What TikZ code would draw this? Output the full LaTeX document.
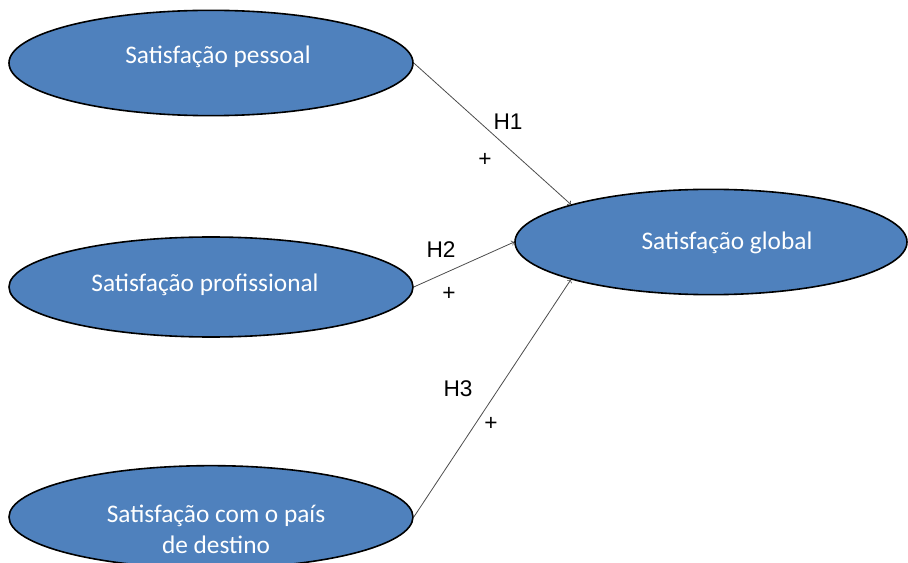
\documentclass[tikz,border=0pt]{standalone}
\usepackage{fontspec}
\setmainfont{Carlito}
\newfontfamily\arialfont{Liberation Sans}
\usetikzlibrary{shapes.geometric}

\begin{document}
\begin{tikzpicture}[x=0.75pt, y=-0.75pt,
    construct/.style={ellipse, draw=black, line width=1.2pt, fill=blueoffice, inner sep=0pt},
    caption/.style={text=white, inner sep=0pt, font=\fontsize{19}{23.5}\selectfont, align=center},
    link/.style={->, line width=0.6pt, draw=black!70},
    hyp/.style={font=\arialfont\fontsize{17}{19}\selectfont, inner sep=0pt}]
  \definecolor{blueoffice}{HTML}{4F81BD}
  \useasboundingbox (0,0) rectangle (908,563);
  \node[construct, minimum width=303pt, minimum height=79pt] (pessoal) at (211,63) {};
  \node[construct, minimum width=303pt, minimum height=75pt] (profissional) at (211,287) {};
  \node[construct, minimum width=303pt, minimum height=77pt] (destino) at (211,517) {};
  \node[construct, minimum width=294pt, minimum height=79pt] (global) at (711,242) {};
  \node[caption] (pessoal-txt) at (218,57) {Satisfação pessoal};
  \node[caption] (profissional-txt) at (205,285) {Satisfação profissional};
  \node[caption] (destino-txt) at (216,529) {Satisfação com o país\\de destino};
  \node[caption] (global-txt) at (727,243) {Satisfação global};
  \draw[link] (pessoal.east) -- (global.165);
  \draw[link] (profissional.east) -- (global.west);
  \draw[link] (destino.east) -- (global.195);
  \node[hyp] (h1) at (508,122) {H1};
  \node[hyp] (p1) at (485,160) {+};
  \node[hyp] (h2) at (441,250) {H2};
  \node[hyp] (p2) at (449,294) {+};
  \node[hyp] (h3) at (458,389) {H3};
  \node[hyp] (p3) at (491,424) {+};
\end{tikzpicture}
\end{document}
